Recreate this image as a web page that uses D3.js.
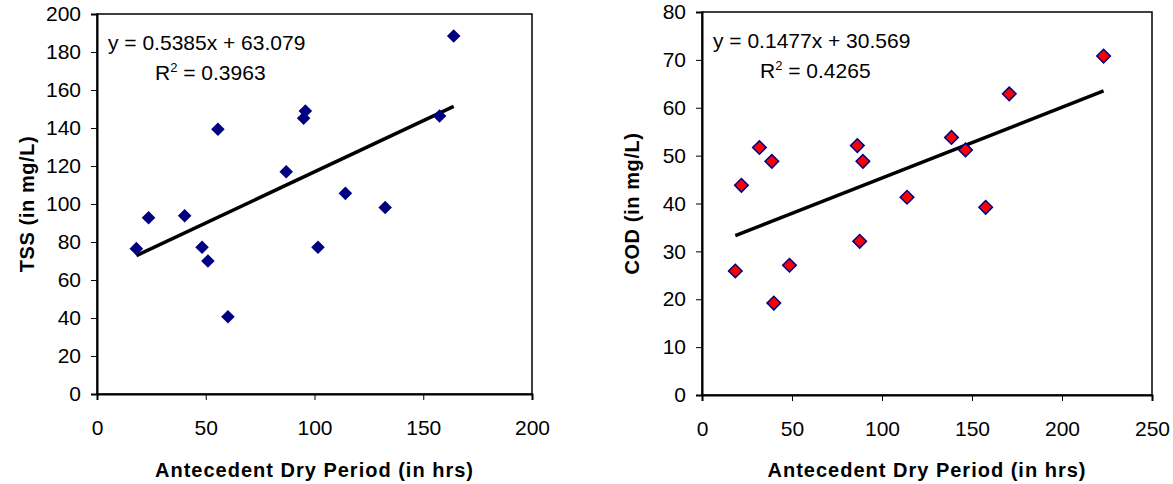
<!DOCTYPE html>
<html>
<head>
<meta charset="utf-8">
<script src="https://cdn.jsdelivr.net/npm/d3@7"></script>
<style>
	body { margin: 0; background: #fff; }
	text { font-family: "Liberation Sans", Arial, sans-serif; fill: #000; }
</style>
</head>
<body>
<svg id="chart" width="1173" height="484"></svg>
<script>
// TSS vs antecedent dry period
const tss_dry = [164.0, 157.5, 95.8, 95.0, 55.6, 87.0, 114.2, 132.5, 23.7, 40.3, 18.1, 48.3, 101.6, 51.0, 60.2];
const tss_val = [188.4, 146.3, 148.9, 145.1, 139.3, 117.0, 105.6, 98.2, 92.8, 93.8, 76.5, 77.2, 77.2, 70.0, 40.7];
const tss_fit = [0.5385, 63.079, 0.3963]; // slope, intercept, R2

// COD vs antecedent dry period
const cod_dry = [223.1, 170.7, 138.6, 146.4, 86.3, 89.4, 31.9, 38.8, 21.9, 113.9, 157.6, 87.6, 48.6, 18.5, 39.9];
const cod_val = [70.8, 62.9, 53.8, 51.2, 52.1, 48.8, 51.7, 48.8, 43.8, 41.3, 39.2, 32.1, 27.1, 25.9, 19.2];
const cod_fit = [0.1477, 30.569, 0.4265];

const x_title = "Antecedent Dry Period (in hrs)";
const tss_title = "TSS (in mg/L)";
const cod_title = "COD (in mg/L)";

const svg = d3.select("#chart");

function makePanel(p) {
	const x = d3.scaleLinear().domain(p.x_domain).range([p.left, p.right]);
	const y = d3.scaleLinear().domain(p.y_domain).range([p.bottom, p.top]);

	const g = svg.append("g");

	// frame
	g.append("rect")
		.attr("x", p.left).attr("y", p.top)
		.attr("width", p.right - p.left).attr("height", p.bottom - p.top)
		.style("fill", "none").style("stroke", "#000").style("stroke-width", 1.5);

	const x_axis = g.append("g")
		.attr("transform", "translate(0," + p.bottom + ")")
		.call(d3.axisBottom(x).tickValues(d3.range(p.x_domain[0], p.x_domain[1] + 1, p.x_step)).tickSize(6).tickPadding(20));
	const y_axis = g.append("g")
		.attr("transform", "translate(" + p.left + ",0)")
		.call(d3.axisLeft(y).tickValues(d3.range(p.y_domain[0], p.y_domain[1] + 1, p.y_step)).tickSize(6).tickPadding(10));

	[x_axis, y_axis].forEach(a => {
		a.select(".domain").style("stroke", "#000").style("stroke-width", 2);
		a.selectAll(".tick line").style("stroke", "#000").style("stroke-width", 1);
		a.selectAll(".tick text").style("font-size", "21px").style("font-family", "'Liberation Sans', Arial, sans-serif").attr("fill", "#000");
	});

	// trend line over the data extent
	const ext = d3.extent(p.xs);
	g.append("line")
		.attr("x1", x(ext[0])).attr("y1", y(p.fit[0] * ext[0] + p.fit[1]))
		.attr("x2", x(ext[1])).attr("y2", y(p.fit[0] * ext[1] + p.fit[1]))
		.style("stroke", "#000").style("stroke-width", 3.5);

	const diamond = d3.symbol().type(d3.symbolSquare).size(92);
	g.selectAll(".pt")
		.data(p.xs.map((d, i) => [d, p.ys[i]]))
		.enter()
		.append("path")
		.attr("d", diamond)
		.attr("transform", d => "translate(" + x(d[0]) + "," + y(d[1]) + ") rotate(45)")
		.style("fill", p.fill)
		.style("stroke", p.stroke)
		.style("stroke-width", p.stroke === "none" ? 0 : 1.5);

	// equation
	g.append("text")
		.attr("x", p.left + 11).attr("y", p.top + 36)
		.style("font-size", "21px")
		.text("y = " + p.fit[0] + "x + " + p.fit[1].toFixed(3));
	const r2 = g.append("text")
		.attr("x", p.left + 58).attr("y", p.top + 66)
		.style("font-size", "21px");
	r2.append("tspan").text("R");
	r2.append("tspan").attr("dy", -8).style("font-size", "13px").text("2");
	r2.append("tspan").attr("dy", 8).text(" = " + p.fit[2].toFixed(4));

	// axis titles
	g.append("text")
		.attr("x", (p.left + p.right) / 2).attr("y", 477)
		.attr("text-anchor", "middle")
		.style("font-size", "20px").style("font-weight", "bold").style("letter-spacing", "1px")
		.text(x_title);
	g.append("text")
		.attr("transform", "translate(" + (p.left - 63) + "," + ((p.top + p.bottom) / 2) + ") rotate(-90)")
		.attr("text-anchor", "middle")
		.style("font-size", "20px").style("font-weight", "bold").style("letter-spacing", "0.6px")
		.text(p.y_title);
}

makePanel({
	xs: tss_dry, ys: tss_val, fit: tss_fit,
	x_domain: [0, 200], x_step: 50, y_domain: [0, 200], y_step: 20,
	left: 97, right: 532, top: 14, bottom: 394,
	fill: "#000080", stroke: "none", y_title: tss_title
});

makePanel({
	xs: cod_dry, ys: cod_val, fit: cod_fit,
	x_domain: [0, 250], x_step: 50, y_domain: [0, 80], y_step: 10,
	left: 702, right: 1152, top: 12, bottom: 395,
	fill: "#ff0000", stroke: "#000080", y_title: cod_title
});
</script>
</body>
</html>
